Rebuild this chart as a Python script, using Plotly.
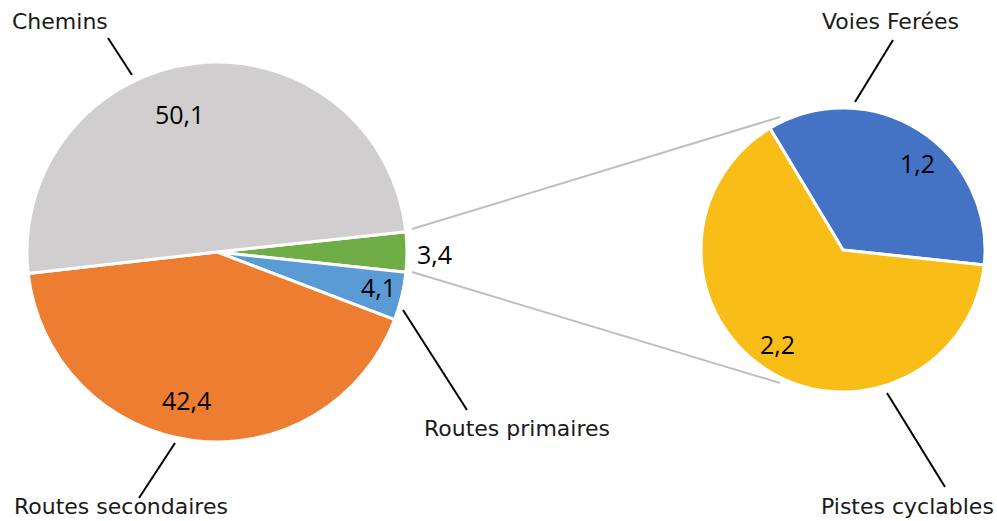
import plotly.graph_objects as go

W, H = 997, 521

# Main pie: the combined "Autres" slice comes first so it sits at 3 o'clock
main_labels = ["Autres", "Routes primaires", "Routes secondaires", "Chemins"]
main_values = [3.4, 4.1, 42.4, 50.1]
main_colors = ["#70AD47", "#5B9BD5", "#ED7D31", "#D0CECE"]

# Secondary pie: breakdown of the "Autres" slice
sub_labels = ["Voies Ferées", "Pistes cyclables"]
sub_values = [1.2, 2.2]
sub_colors = ["#4472C4", "#F9BD18"]


def px(x, y):
    """Pixel position -> paper coordinates."""
    return x / W, 1 - y / H


def fmt(v):
    return f"{v:.1f}".replace(".", ",")


# the first slice is centred on the horizontal axis
main_rotation = 90 - 360 * main_values[0] / sum(main_values) / 2

fig = go.Figure()
fig.add_trace(go.Pie(
    labels=main_labels, values=main_values, sort=False, direction="clockwise",
    rotation=main_rotation,
    marker=dict(colors=main_colors, line=dict(color="white", width=3)),
    textinfo="none", hoverinfo="label+value",
    domain=dict(x=[27 / W, 407 / W], y=[1 - 442 / H, 1 - 62 / H]),
    showlegend=False,
))
fig.add_trace(go.Pie(
    labels=sub_labels, values=sub_values, sort=False, direction="clockwise",
    rotation=-31,
    marker=dict(colors=sub_colors, line=dict(color="white", width=3)),
    textinfo="none", hoverinfo="label+value",
    domain=dict(x=[701 / W, 985 / W], y=[1 - 392 / H, 1 - 108 / H]),
    showlegend=False,
))

shapes = []

# connector lines between the two pies
for (x0, y0, x1, y1) in [(412, 229, 780, 117), (412, 272, 780, 383)]:
    a, b = px(x0, y0)
    c, d = px(x1, y1)
    shapes.append(dict(type="line", xref="paper", yref="paper", x0=a, y0=b, x1=c, y1=d,
                       line=dict(color="#BFBFBF", width=2)))

# leader lines for category names
for (x0, y0, x1, y1) in [
    (108, 38, 132, 75),     # Chemins
    (175, 443, 139, 498),   # Routes secondaires
    (403, 310, 467, 410),   # Routes primaires
    (893, 40, 855, 102),    # Voies Ferées
    (887, 393, 945, 487),   # Pistes cyclables
]:
    a, b = px(x0, y0)
    c, d = px(x1, y1)
    shapes.append(dict(type="line", xref="paper", yref="paper", x0=a, y0=b, x1=c, y1=d,
                       line=dict(color="black", width=2)))

annotations = []
cat_font = dict(family="DejaVu Sans", size=22, color="#1a1a1a")
num_font = dict(family="Open Sans", size=25, color="black")

# category names
for text, (x, y) in [
    ("Chemins", (60, 22)),
    ("Routes secondaires", (121, 506)),
    ("Routes primaires", (517, 428)),
    ("Voies Ferées", (890, 21)),
    ("Pistes cyclables", (907, 506)),
]:
    a, b = px(x, y)
    annotations.append(dict(x=a, y=b, xref="paper", yref="paper", text=text,
                            showarrow=False, font=cat_font, xanchor="center", yanchor="middle"))

# value labels
value_pos = {
    "Chemins": (179, 114),
    "Routes secondaires": (186, 400),
    "Routes primaires": (378, 287),
    "Autres": (434, 254),
    "Voies Ferées": (917, 163),
    "Pistes cyclables": (777, 344),
}
for lab, v in list(zip(main_labels, main_values)) + list(zip(sub_labels, sub_values)):
    a, b = px(*value_pos[lab])
    annotations.append(dict(x=a, y=b, xref="paper", yref="paper", text=fmt(v),
                            showarrow=False, font=num_font, xanchor="center", yanchor="middle"))

fig.update_layout(
    width=W, height=H,
    margin=dict(l=0, r=0, t=0, b=0),
    paper_bgcolor="white", plot_bgcolor="white",
    shapes=shapes, annotations=annotations,
)

fig.write_html("out.html")
